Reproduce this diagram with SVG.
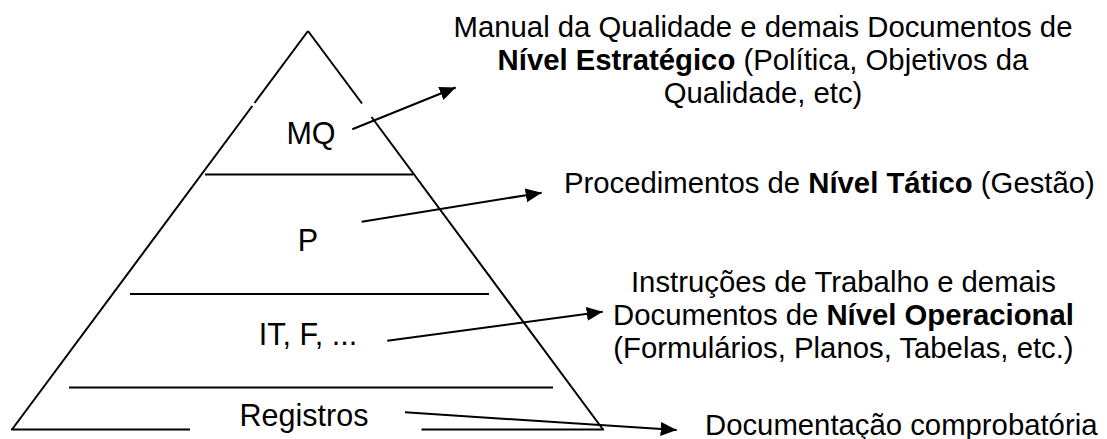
<svg xmlns="http://www.w3.org/2000/svg" width="1107" height="439" viewBox="0 0 1107 439">
<defs>
<style>
.ln{stroke:#000;stroke-width:2;fill:none;stroke-linecap:butt}
.ar{stroke:#000;stroke-width:2;fill:none;marker-end:url(#ah)}
text{font-family:"Liberation Sans",Arial,sans-serif;font-size:29.3px;fill:#000}
.lv{font-size:30.5px}
.b{font-weight:bold}
</style>
<marker id="ah" markerUnits="userSpaceOnUse" markerWidth="18" markerHeight="16" refX="16" refY="7" orient="auto">
<path d="M0,0 L16,7 L0,14 z" fill="#000"/>
</marker>
</defs>
<rect width="1107" height="439" fill="#fff"/>
<g id="pyramid">
<line class="ln" x1="308" y1="31" x2="254.5" y2="103"/>
<line class="ln" x1="252.3" y1="106" x2="12" y2="429.5"/>
<line class="ln" x1="308" y1="31" x2="362" y2="103.5"/>
<line class="ln" x1="371.5" y1="117" x2="603" y2="429.5"/>
<line class="ln" x1="11" y1="429.5" x2="190" y2="429.5"/>
<line class="ln" x1="421.5" y1="429.5" x2="604" y2="429.5"/>
<line class="ln" x1="205" y1="174.5" x2="413" y2="174.5"/>
<line class="ln" x1="130" y1="294" x2="489" y2="294"/>
<line class="ln" x1="69" y1="387.5" x2="553" y2="387.5"/>
</g>
<g id="level-mq"><text class="lv" x="311" y="144" text-anchor="middle">MQ</text></g>
<g id="level-p"><text class="lv" x="308" y="251" text-anchor="middle">P</text></g>
<g id="level-it"><text class="lv" x="308" y="345" text-anchor="middle">IT, F, ...</text></g>
<g id="level-reg"><text class="lv" x="304" y="426" text-anchor="middle">Registros</text></g>
<g id="desc-strategic">
<text x="763" y="36.7" text-anchor="middle">Manual da Qualidade e demais Documentos de</text>
<text x="763" y="70" text-anchor="middle"><tspan class="b">Nível Estratégico</tspan> (Política, Objetivos da</text>
<text x="763" y="103.3" text-anchor="middle">Qualidade, etc)</text>
</g>
<g id="desc-tactical">
<text x="564" y="193.3">Procedimentos de <tspan class="b">Nível Tático</tspan> (Gestão)</text>
</g>
<g id="desc-operational">
<text x="843.5" y="291.7" text-anchor="middle">Instruções de Trabalho e demais</text>
<text x="843.5" y="325" text-anchor="middle">Documentos de <tspan class="b">Nível Operacional</tspan></text>
<text x="843.5" y="358.3" text-anchor="middle">(Formulários, Planos, Tabelas, etc.)</text>
</g>
<g id="desc-records">
<text x="705" y="435">Documentação comprobatória</text>
</g>
<g id="connectors">
<line class="ar" x1="352.3" y1="129.3" x2="455.7" y2="87.5"/>
<line class="ar" x1="361.7" y1="221.7" x2="541.7" y2="192.7"/>
<line class="ar" x1="387.3" y1="340.7" x2="602.7" y2="311.7"/>
<line class="ar" x1="405" y1="412.3" x2="676.7" y2="430"/>
</g>
</svg>
